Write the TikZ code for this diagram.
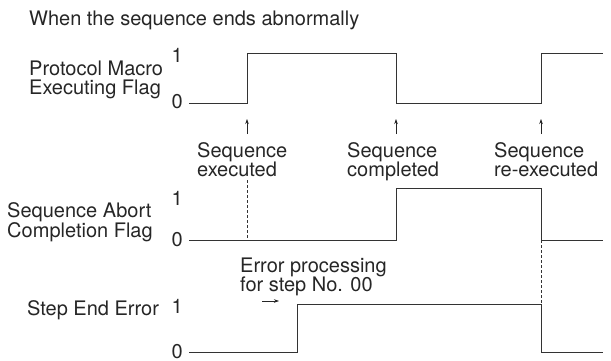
\documentclass[tikz,border=0pt]{standalone}
\usepackage{fontspec}
\setmainfont{TeX Gyre Heros}
\usetikzlibrary{arrows.meta}

\begin{document}
\begin{tikzpicture}[x=1pt, y=-1pt,
  every node/.style={font=\fontsize{20}{19}\selectfont, inner sep=0pt, text=black!85},
  wave/.style={line width=0.8pt, black!80},
  guide/.style={line width=0.7pt, dash pattern=on 3pt off 2pt, black!80},
  tick/.style={line width=0.6pt, black!85, -{Stealth[length=5pt,width=3.5pt]}}]
  \useasboundingbox (0,0) rectangle (611,361);

  \node[anchor=base west] (title) at (29,26) {When the sequence ends abnormally};

  % signal names
  \node[anchor=north west, align=left] (execflag) at (29,60.5) {Protocol Macro\\Executing Flag};
  \node[anchor=north west, align=left] (abortflag) at (7,202.5) {Sequence Abort\\Completion Flag};
  \node[anchor=base west] (steperr) at (27,315) {Step End Error};

  % levels
  \node[anchor=base east] (hione) at (183,63) {1};
  \node[anchor=base east] (loone) at (183,108) {0};
  \node[anchor=base east] (hitwo) at (183,205) {1};
  \node[anchor=base east] (lotwo) at (183,246) {0};
  \node[anchor=base east] (hithree) at (183,313) {1};
  \node[anchor=base east] (lothree) at (183,358) {0};

  % waveforms
  \draw[wave] (189,103) -- (247,103) -- (247,53) -- (396,53) -- (396,103) -- (541,103) -- (541,53) -- (603,53);
  \draw[wave] (189,240) -- (396,240) -- (396,188) -- (541,188) -- (541,240) -- (603,240);
  \draw[wave] (189,352) -- (297,352) -- (297,304) -- (541,304) -- (541,352) -- (603,352);

  % events
  \node[anchor=north west, align=left] (seqexec) at (197,142.5) {Sequence\\executed};
  \node[anchor=north west, align=left] (seqdone) at (347,142.5) {Sequence\\completed};
  \node[anchor=north west, align=left] (seqrerun) at (494,142.5) {Sequence\\re-executed};
  \node[anchor=north west, align=left] (errproc) at (240,257.5) {Error processing\\for step No. 00};

  \coordinate (execfoot) at (247,134);
  \coordinate (exectip) at (247,119);
  \coordinate (donefoot) at (396,134);
  \coordinate (donetip) at (396,119);
  \coordinate (rerunfoot) at (541,134);
  \coordinate (reruntip) at (541,119);
  \coordinate (errfoot) at (262,301);
  \coordinate (errtip) at (279,301);

  \draw[tick] (execfoot) -- (exectip);
  \draw[tick] (donefoot) -- (donetip);
  \draw[tick] (rerunfoot) -- (reruntip);
  \draw[tick] (errfoot) -- (errtip);

  % dashed guides
  \draw[guide] (247,180) -- (247,240);
  \draw[guide] (541,240) -- (541,304);
\end{tikzpicture}
\end{document}
